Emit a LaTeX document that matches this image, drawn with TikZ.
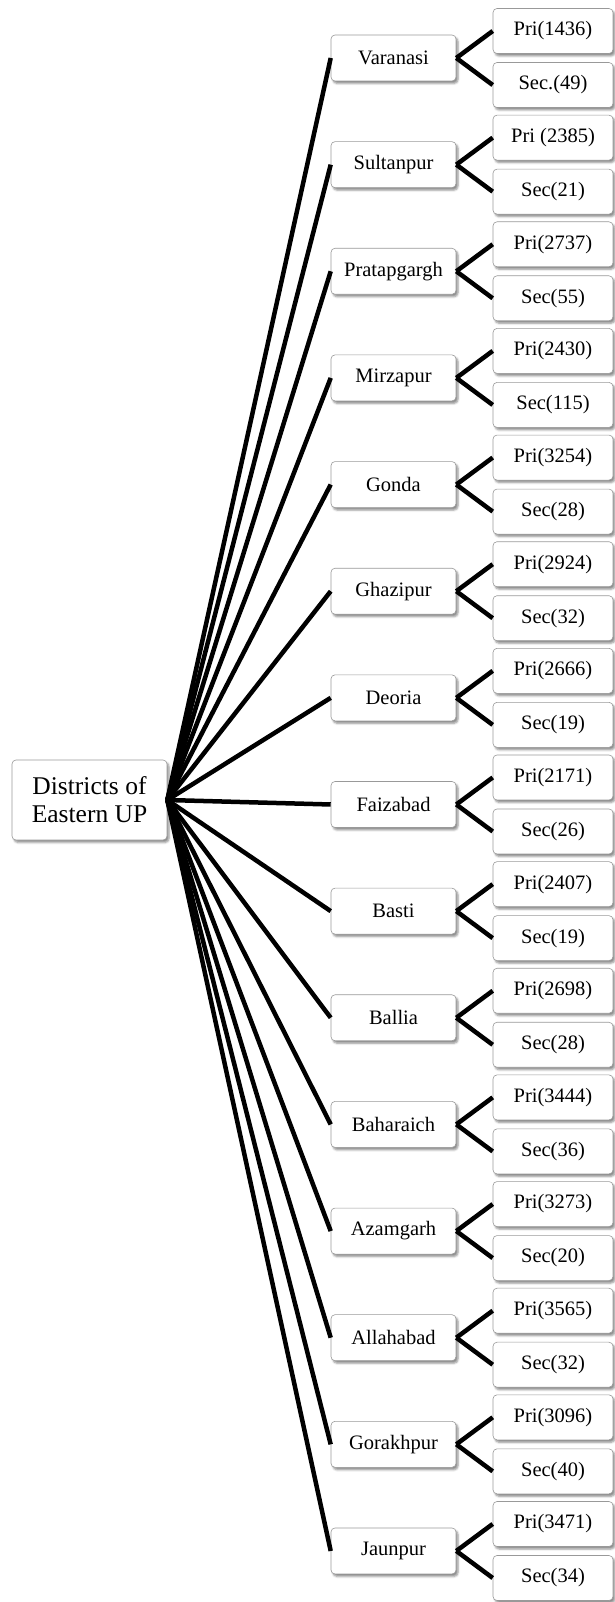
\documentclass[tikz,border=0pt]{standalone}
\usepackage{fontspec}
\setmainfont{Liberation Serif}
\usetikzlibrary{shadows.blur}
\begin{document}
\begin{tikzpicture}[x=1pt,y=-1pt,
  box/.style={draw=black!40, line width=0.6pt, fill=white, rounded corners=4pt,
    blur shadow={shadow xshift=2pt, shadow yshift=-2.5pt, shadow blur radius=2pt, shadow opacity=45},
    inner sep=0pt, align=center},
  rootbox/.style={box, minimum width=155pt, minimum height=80pt, font=\fontsize{25.5}{28}\selectfont},
  dbox/.style={box, minimum width=125pt, minimum height=46pt, font=\fontsize{20.5}{24}\selectfont},
  lbox/.style={box, minimum width=120pt, minimum height=45pt, font=\fontsize{20.5}{24}\selectfont},
  link/.style={line width=4.5pt, black}]
\useasboundingbox (0,0) rectangle (614,1602);

% root of the tree
\node[rootbox] (root) at (89.5,800) {Districts of\\Eastern UP};

% districts with their primary and secondary counts
\foreach \d/\p/\s [count=\i from 0] in {
  Varanasi/Pri(1436)/Sec.(49),
  Sultanpur/Pri (2385)/Sec(21),
  Pratapgargh/Pri(2737)/Sec(55),
  Mirzapur/Pri(2430)/Sec(115),
  Gonda/Pri(3254)/Sec(28),
  Ghazipur/Pri(2924)/Sec(32),
  Deoria/Pri(2666)/Sec(19),
  Faizabad/Pri(2171)/Sec(26),
  Basti/Pri(2407)/Sec(19),
  Ballia/Pri(2698)/Sec(28),
  Baharaich/Pri(3444)/Sec(36),
  Azamgarh/Pri(3273)/Sec(20),
  Allahabad/Pri(3565)/Sec(32),
  Gorakhpur/Pri(3096)/Sec(40),
  Jaunpur/Pri(3471)/Sec(34)} {
  \pgfmathsetmacro\yy{58+\i*106.64}
  \node[dbox] (d\i) at (393.5,\yy) {\d};
  \node[lbox] (p\i) at (553,\yy-27) {\p};
  \node[lbox] (s\i) at (553,\yy+27) {\s};
  \draw[link] (root.east) -- (d\i.west);
  \draw[link] (d\i.east) -- (p\i.west);
  \draw[link] (d\i.east) -- (s\i.west);
}
\end{tikzpicture}
\end{document}
